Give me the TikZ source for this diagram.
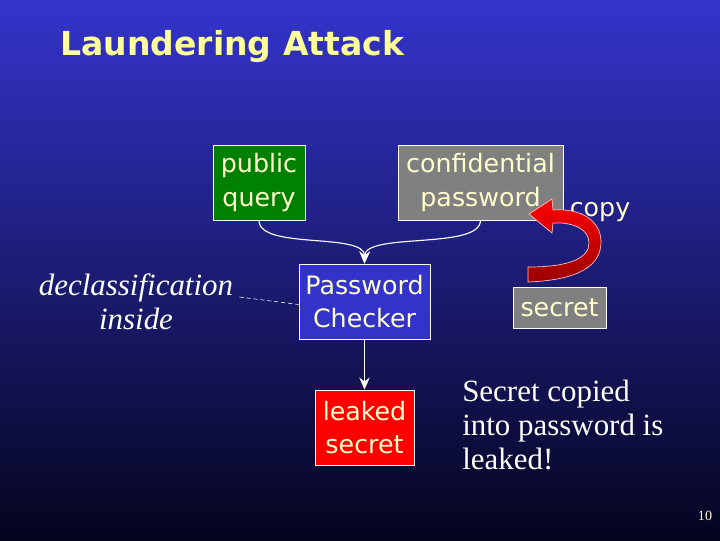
\documentclass[tikz,border=0pt]{standalone}
\usepackage{fontspec}
\setmainfont{Liberation Serif}
\setsansfont{DejaVu Sans}
\usetikzlibrary{positioning,arrows.meta}

\definecolor{bgtop}{RGB}{52,52,204}
\definecolor{bgmid}{RGB}{38,38,158}
\definecolor{bgbot}{RGB}{4,4,30}
\definecolor{cream}{RGB}{255,255,204}
\definecolor{titleyellow}{RGB}{255,255,153}
\definecolor{querygreen}{RGB}{0,128,0}
\definecolor{secretgray}{RGB}{128,128,128}
\definecolor{checkblue}{RGB}{51,51,204}
\definecolor{leakred}{RGB}{255,0,0}

\tikzset{
  box/.style={draw=white,line width=0.6pt,inner sep=0pt,align=center,
    text=cream,font=\sffamily\fontsize{18}{24}\selectfont},
  note/.style={text=white!90!cream,inner sep=0pt},
  flow/.style={white,line width=0.8pt,-{Stealth[length=3mm,width=2.6mm]}},
}

\begin{document}
\begin{tikzpicture}[x=0.025cm,y=-0.025cm]
% background
\shade[top color=bgtop,middle color=bgmid,bottom color=bgbot] (0,0) rectangle (720,540);
\useasboundingbox (0,0) rectangle (720,540);
\node[anchor=west,text=titleyellow,inner sep=0pt,font=\sffamily\bfseries\fontsize{23.5}{28}\selectfont]
  (title) at (60,47) {Laundering Attack};
% boxes
\node[box,fill=querygreen,minimum width=2.3cm,minimum height=1.875cm] (query) at (259,182.5) {public\\query};
\node[box,fill=secretgray,minimum width=4.125cm,minimum height=1.875cm] (pwd) at (480.5,182.5) {confidential\\password};
\node[box,fill=checkblue,minimum width=3.275cm,minimum height=1.875cm] (checker) at (364.5,301.5) {Password\\Checker};
\node[box,fill=secretgray,minimum width=2.325cm,minimum height=1.025cm] (secret) at (559.5,307.5) {secret};
\node[box,fill=leakred,minimum width=2.475cm,minimum height=1.875cm] (leaked) at (364.5,427.5) {leaked\\secret};
% side notes
\node[note,align=center,font=\itshape\fontsize{22}{24}\selectfont] (decl) at (136,302) {declassification\\inside};
\node[note,align=left,anchor=west,font=\fontsize{22}{24}\selectfont] (story) at (462,425) {Secret copied\\into password is\\leaked!};
\node[text=cream,inner sep=0pt,font=\sffamily\fontsize{18}{24}\selectfont] (copy) at (600,212) {copy};
\node[text=cream,inner sep=0pt,font=\fontsize{10}{12}\selectfont] (page) at (705,516) {10};
% inputs into the checker
\draw[flow] (query.south) .. controls (259,250) and (365,232) .. (checker.north);
\draw[flow] (pwd.south) .. controls (480,250) and (365,232) .. (checker.north);
\draw[flow] (checker.south) -- (leaked.north);
\draw[white,densely dashed,line width=0.4pt] ([shift={(6,-5)}]decl.east) -- ([shift={(0,3)}]checker.west);
% copy arrow, secret into password
\shade[top color=leakred,bottom color=leakred!60!black,draw=red!25!white,line width=0.5pt]
  (528,267) -- (528,282) .. controls (580,280) and (601,265) .. (601,242)
  .. controls (601,220) and (580,208) .. (553,210) -- (552,199) -- (529,214)
  -- (552,233) -- (553,223) .. controls (575,222) and (589,230) .. (589,243)
  .. controls (589,258) and (570,267) .. (528,267) -- cycle;
\end{tikzpicture}
\end{document}
